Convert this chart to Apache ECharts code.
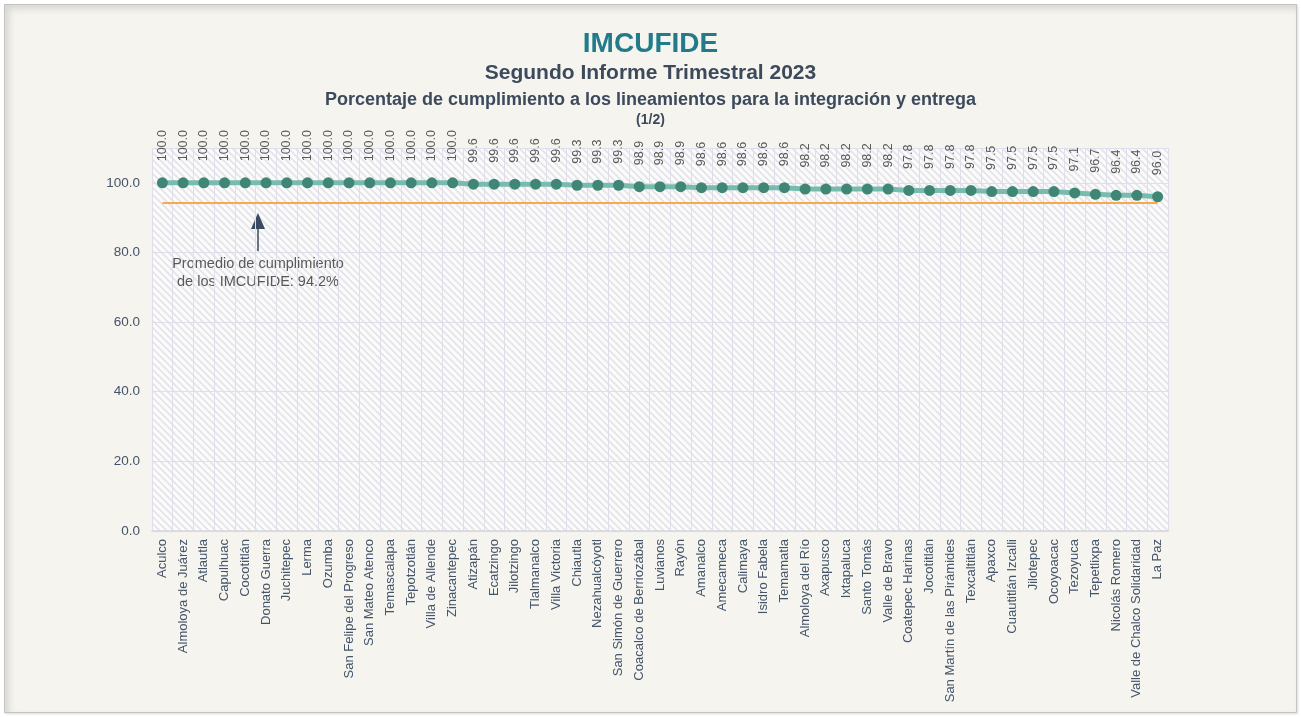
<!DOCTYPE html>
<html>
<head>
<meta charset="utf-8">
<script src="https://cdn.jsdelivr.net/npm/echarts@6/dist/echarts.min.js"></script>
<style>
  html, body { margin: 0; padding: 0; background: #ffffff; }
  #marco {
    position: absolute; left: 4px; top: 4px; width: 1291px; height: 707px;
    border: 1px solid #c4c4c4; background: #f5f4ee;
    box-shadow: inset 4px 4px 7px rgba(0,0,0,0.12), 1px 1px 2px rgba(0,0,0,0.15);
  }
  #lineChart { position: absolute; left: 0; top: 0; width: 1301px; height: 717px; }
</style>
</head>
<body>
<div id="marco"></div>
<div id="lineChart"></div>
<script>
// Datos
const municipios = [
  'Aculco', 'Almoloya de Juárez', 'Atlautla', 'Capulhuac', 'Cocotitlán',
  'Donato Guerra', 'Juchitepec', 'Lerma', 'Ozumba', 'San Felipe del Progreso',
  'San Mateo Atenco', 'Temascalapa', 'Tepotzotlán', 'Villa de Allende', 'Zinacantepec',
  'Atizapán', 'Ecatzingo', 'Jilotzingo', 'Tlalmanalco', 'Villa Victoria',
  'Chiautla', 'Nezahualcóyotl', 'San Simón de Guerrero', 'Coacalco de Berriozábal', 'Luvianos',
  'Rayón', 'Amanalco', 'Amecameca', 'Calimaya', 'Isidro Fabela',
  'Temamatla', 'Almoloya del Río', 'Axapusco', 'Ixtapaluca', 'Santo Tomás',
  'Valle de Bravo', 'Coatepec Harinas', 'Jocotitlán', 'San Martín de las Pirámides', 'Texcaltitlán',
  'Apaxco', 'Cuautitlán Izcalli', 'Jilotepec', 'Ocoyoacac', 'Tezoyuca',
  'Tepetlixpa', 'Nicolás Romero', 'Valle de Chalco Solidaridad', 'La Paz'
];

const cumplimiento = [
  100.0, 100.0, 100.0, 100.0, 100.0,
  100.0, 100.0, 100.0, 100.0, 100.0,
  100.0, 100.0, 100.0, 100.0, 100.0,
  99.6, 99.6, 99.6, 99.6, 99.6,
  99.3, 99.3, 99.3, 98.9, 98.9,
  98.9, 98.6, 98.6, 98.6, 98.6,
  98.6, 98.2, 98.2, 98.2, 98.2,
  98.2, 97.8, 97.8, 97.8, 97.8,
  97.5, 97.5, 97.5, 97.5, 97.1,
  96.7, 96.4, 96.4, 96.0
];

// promedio de los IMCUFIDE
const promedio = 94.2;

// fondo rayado del area de trazado
function rayado() {
  const s = 7;
  const c = document.createElement('canvas');
  c.width = s; c.height = s;
  const ctx = c.getContext('2d');
  ctx.fillStyle = '#fbfbfa';
  ctx.fillRect(0, 0, s, s);
  ctx.strokeStyle = '#e4e3eb';
  ctx.lineWidth = 1.7;
  ctx.beginPath();
  ctx.moveTo(0, 0); ctx.lineTo(s, s);
  ctx.moveTo(-1, s - 1); ctx.lineTo(1, s + 1);
  ctx.moveTo(s - 1, -1); ctx.lineTo(s + 1, 1);
  ctx.stroke();
  return { image: c, repeat: 'repeat' };
}

var chartDom = document.getElementById('lineChart');
var myChart = echarts.init(chartDom);
var option;

const fuente = 'Liberation Sans, Arial, sans-serif';

option = {
  backgroundColor: 'transparent',
  textStyle: { fontFamily: fuente },
  animation: false,
  title: [
    {
      text: 'IMCUFIDE', left: 'center', top: 25,
      textStyle: { fontSize: 28, fontWeight: 'bold', color: '#217b8b', fontFamily: fuente },
    },
    {
      text: 'Segundo Informe Trimestral 2023', left: 'center', top: 58,
      textStyle: { fontSize: 21, fontWeight: 'bold', color: '#3d4a5c', fontFamily: fuente },
    },
    {
      text: 'Porcentaje de cumplimiento a los lineamientos para la integración y entrega', left: 'center', top: 86,
      textStyle: { fontSize: 18, fontWeight: 'bold', color: '#3d4a5c', fontFamily: fuente },
    },
    {
      text: '(1/2)', left: 'center', top: 108,
      textStyle: { fontSize: 14, fontWeight: 'bold', color: '#3d4a5c', fontFamily: fuente },
    },
  ],
  grid: {
    left: 152, right: 133, top: 148, bottom: 186,
    show: true,
    borderWidth: 0,
    backgroundColor: rayado(),
  },
  xAxis: {
    type: 'category',
    data: municipios,
    boundaryGap: true,
    axisLine: { lineStyle: { color: '#d6d6de', width: 1.5 } },
    axisTick: { show: false },
    splitLine: { show: true, interval: 0, lineStyle: { color: '#dfdeea', width: 1 } },
    axisLabel: {
      interval: 0, rotate: 90, fontSize: 13, color: '#44546a', margin: 8, fontFamily: fuente,
    },
  },
  yAxis: {
    type: 'value',
    min: 0, max: 110, interval: 20,
    axisLine: { show: false },
    axisTick: { show: false },
    splitLine: { lineStyle: { color: '#dfdeea', width: 1 } },
    axisLabel: {
      showMaxLabel: false, fontSize: 13.5, color: '#44546a', margin: 12, fontFamily: fuente,
      formatter: (v) => (v > 100 ? '' : v.toFixed(1)),
    },
  },
  series: [
    {
      name: 'Cumplimiento',
      type: 'line',
      data: cumplimiento,
      symbol: 'circle',
      symbolSize: 11,
      lineStyle: { color: '#78bcaf', width: 5 },
      itemStyle: { color: '#3f8676' },
      label: {
        show: true,
        position: 'top',
        distance: 16,
        rotate: 90,
        align: 'left',
        verticalAlign: 'middle',
        fontSize: 12.5,
        color: '#595959',
        fontFamily: fuente,
        formatter: (p) => p.value.toFixed(1),
      },
      markLine: {
        silent: true,
        symbol: 'none',
        label: { show: false },
        lineStyle: { color: '#f7a94b', width: 2, type: 'solid' },
        data: [[
          { coord: [municipios[0], promedio] },
          { coord: [municipios[municipios.length - 1], promedio] },
        ]],
      },
      z: 3,
    },
  ],
  graphic: [
    {
      type: 'line',
      shape: { x1: 258, y1: 251, x2: 258, y2: 227 },
      style: { stroke: '#3b4a63', lineWidth: 1.5 },
    },
    {
      type: 'polygon',
      shape: { points: [[251, 229], [265, 229], [258, 213]] },
      style: { fill: '#3b4a63' },
    },
    {
      type: 'text',
      x: 258, y: 255,
      style: {
        text: 'Promedio de cumplimiento\nde los IMCUFIDE: ' + promedio + '%',
        fontSize: 14.5, lineHeight: 18, fill: '#595959',
        align: 'center', verticalAlign: 'top', fontFamily: fuente,
      },
    },
  ],
};

option && myChart.setOption(option);
</script>
</body>
</html>
